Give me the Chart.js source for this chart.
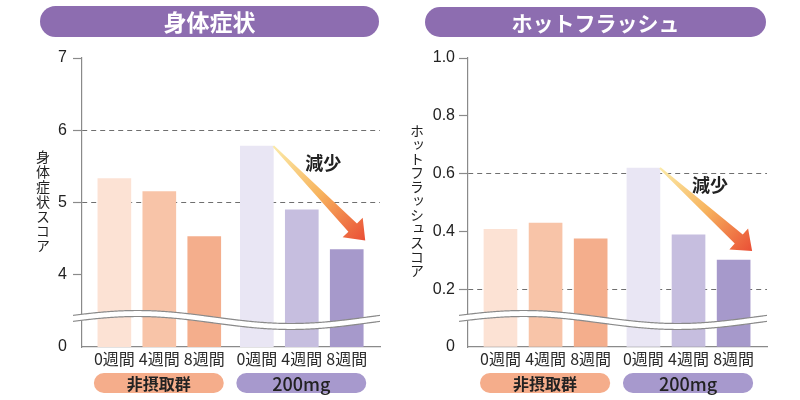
<!DOCTYPE html>
<html lang="ja">
<head>
<meta charset="utf-8">
<script src="https://cdn.jsdelivr.net/npm/chart.js@4.4.1/dist/chart.umd.min.js"></script>
<style>
  body { margin: 0; background: #fff; }
  #wrap { position: relative; width: 800px; height: 400px; font-family: "Noto Sans CJK JP", sans-serif; }
  .panel { position: absolute; top: 0; width: 400px; height: 400px; }
  .panel canvas { position: absolute; left: 0; top: 0; }
  .title {
    position: absolute; height: 31px; border-radius: 16px; background: #8d6db0;
    color: #fff; font-weight: bold; line-height: 31px; text-align: center;
  }
  .ytitle {
    position: absolute; writing-mode: vertical-rl; text-orientation: upright;
    font-size: 14px; line-height: 14px; color: #222;
  }
</style>
</head>
<body>
<div id="wrap">
  <div class="panel" style="left:0">
    <canvas id="bodyChart" width="400" height="400"></canvas>
    <div class="title" id="bodyTitle" style="left:40px;top:6px;width:339px;font-size:23px"></div>
    <div class="ytitle" id="bodyAxis" style="left:36px;top:150px;letter-spacing:0.8px"></div>
  </div>
  <div class="panel" style="left:400px">
    <canvas id="hotChart" width="400" height="400"></canvas>
    <div class="title" id="hotTitle" style="left:25px;top:7px;width:341px;height:30px;line-height:30px;font-size:21px"></div>
    <div class="ytitle" id="hotAxis" style="left:10px;top:124px"></div>
  </div>
</div>
<script>
// values
const weeks = ["0週間", "4週間", "8週間", "0週間", "4週間", "8週間"];
const groups = ["非摂取群", "200mg"];
const bodyScores = [5.33, 5.15, 4.53, 5.78, 4.90, 4.35];
const hotFlashScores = [0.407, 0.429, 0.374, 0.619, 0.388, 0.301];

// left axis is broken: the bottom tick (3) is labelled "0"
const bodyTicks = [3, 4, 5, 6, 7];
const bodyTickLabels = ["0", "4", "5", "6", "7"];
const bodyDashed = [5, 6];
const hotTicks = [0, 0.2, 0.4, 0.6, 0.8, 1.0];
const hotTickLabels = ["0", "0.2", "0.4", "0.6", "0.8", "1.0"];
const hotDashed = [0.2, 0.6];

const barColors = ["#fce2d4", "#f8c4a8", "#f4ae8c", "#e9e6f4", "#c6bedf", "#a699cb"];
const groupColors = ["#f5ad8b", "#a799cd"];
const titles = ["身体症状", "ホットフラッシュ"];
const axisTitles = ["身体症状スコア", "ホットフラッシュスコア"];
const changeLabel = "減少";

const GRAY = "#8a8a8a";
const X_MAX = 6.63;
// bar slot on the x axis, with a little extra gap between the two groups
function slotX(i) {
  return i + 0.72 + (i >= 3 ? 0.17 : 0);
}

function qs(id) {
  return document.getElementById(id);
}

function roundRect(ctx, x, y, w, h, r) {
  ctx.beginPath();
  ctx.moveTo(x + r, y);
  ctx.lineTo(x + w - r, y);
  ctx.arc(x + w - r, y + r, r, -Math.PI / 2, Math.PI / 2);
  ctx.lineTo(x + r, y + h);
  ctx.arc(x + r, y + r, r, Math.PI / 2, Math.PI * 1.5);
  ctx.closePath();
}

// wavy white band marking the axis break
const breakPlugin = {
  id: "axisBreak",
  afterDatasetsDraw(chart) {
    const { ctx, chartArea: a } = chart;
    const x0 = a.left - 9, x1 = a.right;
    const cy = a.bottom - 30, amp = 6.5, gap = 6;
    const xPeak = x0 + 0.21 * (x1 - x0), period = x1 - x0;
    const yAt = (x) => cy - amp * Math.cos((2 * Math.PI * (x - xPeak)) / period);

    ctx.save();
    ctx.beginPath();
    for (let x = x0; x <= x1; x++) ctx.lineTo(x, yAt(x));
    for (let x = x1; x >= x0; x--) ctx.lineTo(x, yAt(x) + gap);
    ctx.closePath();
    ctx.fillStyle = "#fff";
    ctx.fill();

    ctx.strokeStyle = GRAY;
    ctx.lineWidth = 1.2;
    [0, gap].forEach((off) => {
      ctx.beginPath();
      for (let x = x0; x <= x1; x++) ctx.lineTo(x, yAt(x) + off);
      ctx.stroke();
    });
    ctx.restore();
  },
};

// gradient arrow from the 0-week bar to the 8-week bar of the 200mg group
const arrowPlugin = {
  id: "decreaseArrow",
  afterDatasetsDraw(chart) {
    const { ctx } = chart;
    const bars = chart.getDatasetMeta(0).data;
    const from = bars[3], to = bars[5];
    const sx = from.x + from.width / 2, sy = from.y;
    const tx = to.x + to.width / 2 + 2, ty = to.y - 9;

    const len = Math.hypot(tx - sx, ty - sy);
    const dx = (tx - sx) / len, dy = (ty - sy) / len;
    const nx = -dy, ny = dx;
    const headLen = 18, headW = 14, w0 = 1, w1 = 6;
    const bx = tx - dx * headLen, by = ty - dy * headLen;

    const grad = ctx.createLinearGradient(sx, sy, tx, ty);
    grad.addColorStop(0, "#fbeaa8");
    grad.addColorStop(0.5, "#f7b45e");
    grad.addColorStop(1, "#ea4f36");

    ctx.save();
    ctx.beginPath();
    ctx.moveTo(sx + nx * w0, sy + ny * w0);
    ctx.lineTo(bx + nx * w1, by + ny * w1);
    ctx.lineTo(bx + nx * headW, by + ny * headW);
    ctx.lineTo(tx, ty);
    ctx.lineTo(bx - nx * headW, by - ny * headW);
    ctx.lineTo(bx - nx * w1, by - ny * w1);
    ctx.lineTo(sx - nx * w0, sy - ny * w0);
    ctx.closePath();
    ctx.fillStyle = grad;
    ctx.fill();

    ctx.fillStyle = "#222";
    ctx.font = "bold 18px 'Noto Sans CJK JP'";
    ctx.textAlign = "center";
    ctx.textBaseline = "middle";
    ctx.fillText(changeLabel, sx + 50, sy + 17);
    ctx.restore();
  },
};

// rounded group labels under the week labels
const groupPlugin = {
  id: "groupPills",
  afterDraw(chart) {
    const { ctx, chartArea: a } = chart;
    const bars = chart.getDatasetMeta(0).data;
    const top = a.bottom + 26, h = 20;
    ctx.save();
    groups.forEach((g, gi) => {
      const first = bars[gi * 3], last = bars[gi * 3 + 2];
      const left = first.x - first.width / 2 - 4;
      const right = last.x + last.width / 2 + 3;
      roundRect(ctx, left, top, right - left, h, h / 2);
      ctx.fillStyle = groupColors[gi];
      ctx.fill();
      ctx.fillStyle = "#222";
      ctx.font = gi === 0 ? "bold 16px 'Noto Sans CJK JP'" : "500 18px 'Noto Sans CJK JP'";
      ctx.textAlign = "center";
      ctx.textBaseline = "middle";
      ctx.fillText(g, (left + right) / 2, top + h / 2 + 1);
    });
    ctx.restore();
  },
};

function makeChart(canvasId, values, ticks, tickLabels, dashed, opts) {
  const yMin = ticks[0], yMax = ticks[ticks.length - 1];
  return new Chart(qs(canvasId), {
    type: "bar",
    data: {
      datasets: [
        {
          data: values.map((v, i) => ({ x: slotX(i), y: v })),
          backgroundColor: barColors,
          barThickness: 33,
          borderWidth: 0,
        },
      ],
    },
    options: {
      responsive: false,
      animation: false,
      layout: { padding: { top: 58, right: opts.padRight, left: 0, bottom: 0 } },
      plugins: { legend: { display: false }, tooltip: { enabled: false } },
      scales: {
        x: {
          type: "linear",
          min: 0,
          max: X_MAX,
          offset: false,
          grid: { display: false, drawTicks: false },
          border: { color: GRAY, width: 1.2 },
          afterBuildTicks: (s) => {
            s.ticks = weeks.map((_, i) => ({ value: slotX(i) }));
          },
          afterFit: (s) => {
            s.height = 53;
          },
          ticks: {
            callback: (v, i) => weeks[i],
            color: "#2a2a2a",
            font: { family: "'Noto Sans CJK JP'", size: 16 },
            padding: 2,
            maxRotation: 0,
            autoSkip: false,
          },
        },
        y: {
          min: yMin,
          max: yMax,
          beginAtZero: false,
          afterBuildTicks: (s) => {
            s.ticks = ticks.map((v) => ({ value: v }));
          },
          afterFit: (s) => {
            s.width = opts.yWidth;
          },
          grid: {
            color: (c) => (dashed.includes(c.tick.value) ? "#6f6f6f" : "transparent"),
            tickColor: (c) => (c.tick.value === yMin ? "transparent" : GRAY),
            tickLength: 9,
            lineWidth: 1,
            tickWidth: 1.2,
          },
          border: { color: GRAY, width: 1.2, dash: [5, 4] },
          ticks: {
            callback: (v, i) => tickLabels[i],
            color: "#222",
            font: { family: "'Liberation Sans'", size: 16 },
            padding: opts.tickPad,
          },
        },
      },
    },
    plugins: [breakPlugin, arrowPlugin, groupPlugin],
  });
}

qs("bodyTitle").textContent = titles[0];
qs("hotTitle").textContent = titles[1];
qs("bodyAxis").textContent = axisTitles[0];
qs("hotAxis").textContent = axisTitles[1];

makeChart("bodyChart", bodyScores, bodyTicks, bodyTickLabels, bodyDashed, {
  yWidth: 82, padRight: 20, tickPad: 6,
});
makeChart("hotChart", hotFlashScores, hotTicks, hotTickLabels, hotDashed, {
  yWidth: 68, padRight: 33, tickPad: 4,
});
</script>
</body>
</html>
